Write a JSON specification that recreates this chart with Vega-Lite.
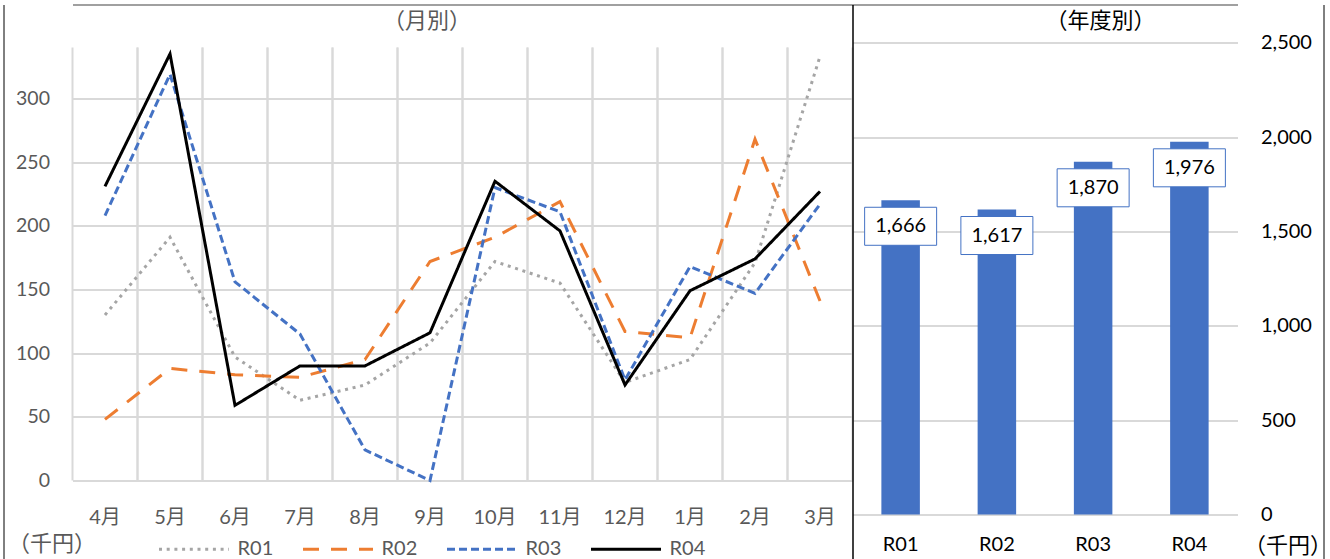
{
  "$schema": "https://vega.github.io/schema/vega-lite/v6.json",
  "padding": {"left": 3.5, "top": 4.5, "right": 0, "bottom": 0},
  "background": "#FFFFFF",
  "bounds": "flush",
  "spacing": -1,
  "config": {"font": "Lato, 'Noto Sans CJK JP', sans-serif", "view": {"stroke": null}},
  "datasets": {
    "monthly": [
      {"month": "4月", "series": "R01", "value": 130},
      {"month": "5月", "series": "R01", "value": 191},
      {"month": "6月", "series": "R01", "value": 97},
      {"month": "7月", "series": "R01", "value": 63},
      {"month": "8月", "series": "R01", "value": 75},
      {"month": "9月", "series": "R01", "value": 108},
      {"month": "10月", "series": "R01", "value": 172},
      {"month": "11月", "series": "R01", "value": 155},
      {"month": "12月", "series": "R01", "value": 77},
      {"month": "1月", "series": "R01", "value": 95},
      {"month": "2月", "series": "R01", "value": 171},
      {"month": "3月", "series": "R01", "value": 333},
      {"month": "4月", "series": "R02", "value": 48},
      {"month": "5月", "series": "R02", "value": 88},
      {"month": "6月", "series": "R02", "value": 83},
      {"month": "7月", "series": "R02", "value": 81},
      {"month": "8月", "series": "R02", "value": 95},
      {"month": "9月", "series": "R02", "value": 172},
      {"month": "10月", "series": "R02", "value": 191},
      {"month": "11月", "series": "R02", "value": 219},
      {"month": "12月", "series": "R02", "value": 117},
      {"month": "1月", "series": "R02", "value": 112},
      {"month": "2月", "series": "R02", "value": 268},
      {"month": "3月", "series": "R02", "value": 141},
      {"month": "4月", "series": "R03", "value": 208},
      {"month": "5月", "series": "R03", "value": 319},
      {"month": "6月", "series": "R03", "value": 156},
      {"month": "7月", "series": "R03", "value": 115},
      {"month": "8月", "series": "R03", "value": 24},
      {"month": "9月", "series": "R03", "value": 0},
      {"month": "10月", "series": "R03", "value": 230},
      {"month": "11月", "series": "R03", "value": 211},
      {"month": "12月", "series": "R03", "value": 79},
      {"month": "1月", "series": "R03", "value": 168},
      {"month": "2月", "series": "R03", "value": 147},
      {"month": "3月", "series": "R03", "value": 217},
      {"month": "4月", "series": "R04", "value": 231},
      {"month": "5月", "series": "R04", "value": 335},
      {"month": "6月", "series": "R04", "value": 59},
      {"month": "7月", "series": "R04", "value": 90},
      {"month": "8月", "series": "R04", "value": 90},
      {"month": "9月", "series": "R04", "value": 116},
      {"month": "10月", "series": "R04", "value": 235},
      {"month": "11月", "series": "R04", "value": 196},
      {"month": "12月", "series": "R04", "value": 75},
      {"month": "1月", "series": "R04", "value": 149},
      {"month": "2月", "series": "R04", "value": 174},
      {"month": "3月", "series": "R04", "value": 227}
    ],
    "annual": [
      {"year": "R01", "total": 1666},
      {"year": "R02", "total": 1617},
      {"year": "R03", "total": 1870},
      {"year": "R04", "total": 1976}
    ]
  },
  "hconcat": [
    {
      "width": 780,
      "height": 554,
      "title": {"text": "（月別）", "anchor": "middle", "frame": "group", "offset": -38, "dx": -35.5, "baseline": "middle", "font": "Noto Sans CJK JP", "fontSize": 22, "fontWeight": "normal", "color": "#595959"},
      "data": {"name": "monthly"},
      "layer": [
        {
          "transform": [{"filter": "datum.series === 'R01'"}],
          "mark": {"type": "rule", "color": "#D9D9D9", "strokeWidth": 2},
          "encoding": {
            "x": {"field": "month", "type": "nominal", "sort": ["4月","5月","6月","7月","8月","9月","10月","11月","12月","1月","2月","3月"], "bandPosition": 0,
                  "scale": {"type": "band", "paddingInner": 0, "paddingOuter": 0},
                  "axis": {"orient": "top", "domain": true, "domainColor": "#808080", "domainWidth": 1.5, "labels": false, "ticks": false, "grid": false, "title": null}},
            "y": {"datum": 0, "type": "quantitative", "scale": {"domain": [-61.26, 373.8], "nice": false, "zero": false},
                  "axis": {"orient": "left", "offset": 69, "domain": true, "domainColor": "#000000", "domainWidth": 1, "labels": false, "ticks": false, "grid": false, "title": null}},
            "y2": {"datum": 340}
          }
        },
        {
          "transform": [{"filter": "datum.series === 'R01'"}],
          "mark": {"type": "rule", "color": "#D9D9D9", "strokeWidth": 2},
          "encoding": {
            "x": {"field": "month", "type": "nominal", "sort": ["4月","5月","6月","7月","8月","9月","10月","11月","12月","1月","2月","3月"], "bandPosition": 1,
                  "scale": {"type": "band", "paddingInner": 0, "paddingOuter": 0}, "axis": null},
            "y": {"datum": 0, "type": "quantitative", "scale": {"domain": [-61.26, 373.8], "nice": false, "zero": false}, "axis": null},
            "y2": {"datum": 340}
          }
        },
        {
          "mark": {"type": "line", "strokeWidth": 3, "strokeCap": "butt"},
          "encoding": {
            "x": {"field": "month", "type": "nominal", "sort": ["4月","5月","6月","7月","8月","9月","10月","11月","12月","1月","2月","3月"], "bandPosition": 0.5,
                  "scale": {"type": "band", "paddingInner": 0, "paddingOuter": 0},
                  "axis": {"orient": "bottom", "offset": -78, "domain": false, "ticks": false, "tickSize": 0, "grid": false, "labelPadding": 37, "labelBaseline": "middle", "labelAngle": 0, "labelFontSize": 20, "labelColor": "#595959", "title": null}},
            "y": {"field": "value", "type": "quantitative", "scale": {"domain": [-61.26, 373.8], "nice": false, "zero": false},
                  "axis": {"orient": "left", "values": [0, 50, 100, 150, 200, 250, 300], "domain": false, "ticks": false, "tickSize": 0, "grid": true, "gridColor": "#D9D9D9", "gridWidth": 2,
                           "labelPadding": 23, "labelFontSize": 19.5, "labelColor": "#595959",
                           "title": "（千円）", "titleFont": "Noto Sans CJK JP", "titleAngle": 0, "titleX": -65, "titleY": 539, "titleAlign": "left", "titleBaseline": "middle", "titleFontSize": 22, "titleFontWeight": "normal", "titleColor": "#595959"}},
            "color": {"field": "series", "type": "nominal",
                      "scale": {"domain": ["R01", "R02", "R03", "R04"], "range": ["#A5A5A5", "#ED7D31", "#4472C4", "#000000"]},
                      "legend": {"orient": "none", "legendX": 85, "legendY": 508, "direction": "horizontal", "title": null, "symbolType": "stroke", "symbolSize": 4900, "symbolStrokeWidth": 3, "labelFontSize": 20, "labelColor": "#595959", "labelOffset": 7, "columnPadding": 23, "padding": 0}},
            "strokeDash": {"field": "series", "type": "nominal",
                           "scale": {"domain": ["R01", "R02", "R03", "R04"], "range": [[3, 4.7], [16, 12], [8, 4], [1, 0]]},
                           "legend": {"orient": "none", "legendX": 85, "legendY": 508, "direction": "horizontal", "title": null, "symbolType": "stroke", "symbolSize": 4900, "symbolStrokeWidth": 3, "labelFontSize": 20, "labelColor": "#595959", "labelOffset": 7, "columnPadding": 23, "padding": 0}}
          }
        }
      ],
      "resolve": {"axis": {"x": "independent", "y": "independent"}}
    },
    {
      "width": 385,
      "height": 554,
      "title": {"text": "（年度別）", "anchor": "middle", "frame": "group", "offset": -38, "dx": 55.5, "baseline": "middle", "font": "Noto Sans CJK JP", "fontSize": 22, "fontWeight": "normal", "color": "#000000"},
      "data": {"name": "annual"},
      "layer": [
        {
          "mark": {"type": "bar", "color": "#4472C4"},
          "encoding": {
            "x": {"field": "year", "type": "nominal", "scale": {"type": "band", "paddingInner": 0.6, "paddingOuter": 0.3},
                  "axis": {"orient": "bottom", "offset": -44, "domain": false, "ticks": false, "tickSize": 0, "grid": false, "labelPadding": 30, "labelBaseline": "middle", "labelAngle": 0, "labelFontSize": 20, "labelColor": "#000000", "title": null}},
            "y": {"field": "total", "type": "quantitative", "scale": {"domain": [-233.3, 2704], "nice": false, "zero": false},
                  "axis": {"orient": "right", "values": [0, 500, 1000, 1500, 2000, 2500], "labelExpr": "format(datum.value, ',')", "domain": false, "ticks": false, "tickSize": 0, "grid": true, "gridColor": "#D9D9D9", "gridWidth": 2,
                           "labelPadding": 23, "labelFontSize": 20, "labelColor": "#000000",
                           "title": "（千円）", "titleFont": "Noto Sans CJK JP", "titleAngle": 0, "titleX": 6, "titleY": 541, "titleAlign": "left", "titleBaseline": "middle", "titleFontSize": 22, "titleFontWeight": "normal", "titleColor": "#000000"}},
            "y2": {"datum": 0}
          }
        },
        {
          "mark": {"type": "point", "shape": "M-1,-0.528H1V0.528H-1Z", "size": 5184, "filled": true, "fill": "#FFFFFF", "stroke": "#4472C4", "strokeWidth": 1, "opacity": 1, "fillOpacity": 1, "strokeOpacity": 1, "yOffset": 26},
          "encoding": {
            "x": {"field": "year", "type": "nominal", "scale": {"type": "band", "paddingInner": 0.6, "paddingOuter": 0.3},
                  "axis": {"orient": "top", "domain": true, "domainColor": "#808080", "domainWidth": 1.5, "labels": false, "ticks": false, "grid": false, "title": null}},
            "y": {"field": "total", "type": "quantitative", "scale": {"domain": [-233.3, 2704], "nice": false, "zero": false},
                  "axis": {"orient": "left", "domain": true, "domainColor": "#000000", "domainWidth": 1.5, "labels": false, "ticks": false, "grid": false, "title": null}}
          }
        },
        {
          "mark": {"type": "text", "fontSize": 20, "color": "#000000", "yOffset": 26, "baseline": "middle"},
          "encoding": {
            "x": {"field": "year", "type": "nominal", "scale": {"type": "band", "paddingInner": 0.6, "paddingOuter": 0.3}, "axis": null},
            "y": {"field": "total", "type": "quantitative", "scale": {"domain": [-233.3, 2704], "nice": false, "zero": false},
                  "axis": {"orient": "right", "offset": 86, "domain": true, "domainColor": "#000000", "domainWidth": 1, "labels": false, "ticks": false, "grid": false, "title": null}},
            "text": {"field": "total", "type": "quantitative", "format": ","}
          }
        }
      ],
      "resolve": {"axis": {"x": "independent", "y": "independent"}}
    }
  ]
}
